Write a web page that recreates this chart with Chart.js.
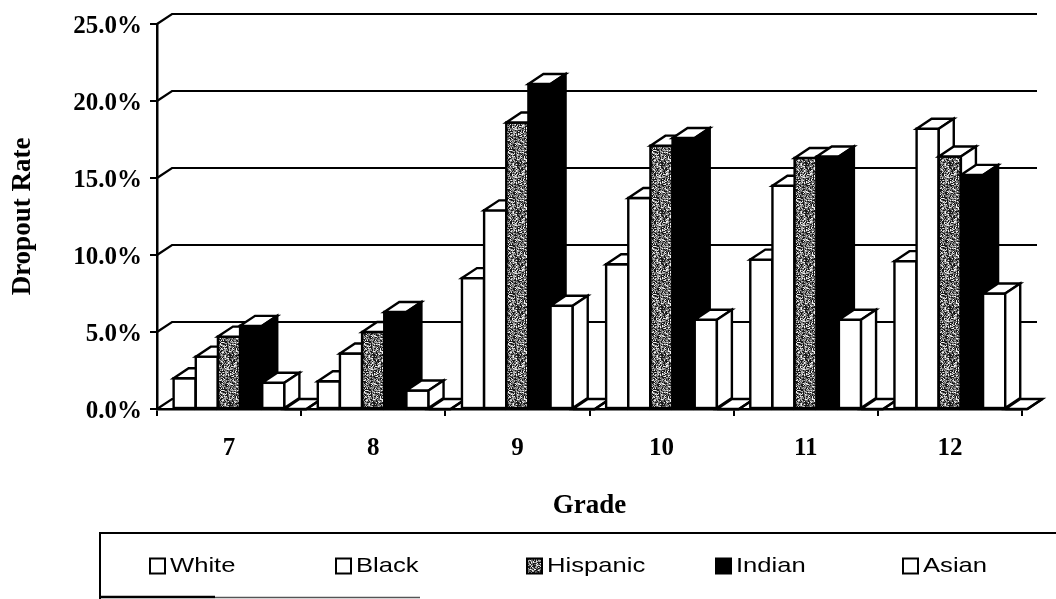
<!DOCTYPE html>
<html>
<head>
<meta charset="utf-8">
<script src="https://cdn.jsdelivr.net/npm/chart.js@4.4.1/dist/chart.umd.min.js"></script>
<style>
  html, body { margin: 0; padding: 0; background: #fff; overflow: hidden; }
  #wrap { width: 1056px; height: 599px; position: relative; }
</style>
</head>
<body>
<div id="wrap"><canvas id="chart" width="1056" height="599"></canvas></div>
<script>
// Dropout rate (%) by grade and group
const grades   = ['7', '8', '9', '10', '11', '12'];
const white    = [2.0, 1.8, 8.5, 9.4, 9.7, 9.6];
const black    = [3.4, 3.6, 12.9, 13.7, 14.5, 18.2];
const hispanic = [4.7, 5.0, 18.6, 17.1, 16.3, 16.4];
const indian   = [5.4, 6.3, 21.1, 17.6, 16.4, 15.2];
const asian    = [1.7, 1.2, 6.7, 5.8, 5.8, 7.5];
const other    = [0, 0, 0, 0, 0, 0];
const yTicks   = [0, 5, 10, 15, 20, 25];
const legendNames = ['White', 'Black', 'Hispanic', 'Indian', 'Asian'];

// 3-D projection of the bars and walls
const DX = 15, DY = 10, SHIFT = 11;

const SERIF = '"Liberation Serif", "Times New Roman", serif';
const SANS = '"Liberation Sans", Arial, sans-serif';

const canvas = document.getElementById('chart');
const mainCtx = canvas.getContext('2d');

// grainy grey fill used for the Hispanic bars
function makeStipple(ctx) {
  const size = 48;
  const c = document.createElement('canvas');
  c.width = c.height = size;
  const g = c.getContext('2d');
  const img = g.createImageData(size, size);
  let s = 918273;
  for (let i = 0; i < size * size; i++) {
    s = (s * 1103515245 + 12345) & 0x7fffffff;
    const r = s / 0x7fffffff;
    const v = r < 0.34 ? 25 : (r < 0.66 ? 105 : (r < 0.86 ? 175 : 240));
    img.data[i * 4] = img.data[i * 4 + 1] = img.data[i * 4 + 2] = v;
    img.data[i * 4 + 3] = 255;
  }
  g.putImageData(img, 0, 0);
  return ctx.createPattern(c, 'repeat');
}
const stipple = makeStipple(mainCtx);

const frontFill = ['#fff', '#fff', stipple, '#000', '#fff', '#fff'];
const sideFill  = ['#fff', '#fff', '#fff', '#000', '#fff', '#fff'];

function poly(ctx, pts, fill) {
  ctx.beginPath();
  ctx.moveTo(pts[0][0], pts[0][1]);
  for (let k = 1; k < pts.length; k++) ctx.lineTo(pts[k][0], pts[k][1]);
  ctx.closePath();
  ctx.fillStyle = fill;
  ctx.fill();
  ctx.stroke();
}

const bars3d = {
  id: 'bars3d',
  beforeDatasetsDraw(chart) {
    const { ctx, chartArea: a, scales: { y } } = chart;
    ctx.save();
    ctx.strokeStyle = '#000';
    ctx.lineWidth = 2.2;
    // back wall gridlines with the left-wall diagonals
    yTicks.forEach(v => {
      const py = y.getPixelForValue(v);
      ctx.beginPath();
      ctx.moveTo(a.left, py);
      ctx.lineTo(a.left + DX, py - DY);
      ctx.lineTo(a.right + DX, py - DY);
      ctx.stroke();
    });
    const by = y.getPixelForValue(0);
    ctx.beginPath();
    ctx.moveTo(a.right, by);
    ctx.lineTo(a.right + DX, by - DY);
    ctx.stroke();
    ctx.restore();
  },
  afterDatasetsDraw(chart) {
    const ctx = chart.ctx;
    const metas = chart.data.datasets.map((d, i) => chart.getDatasetMeta(i));
    const n = chart.data.labels.length;
    ctx.save();
    ctx.strokeStyle = '#000';
    ctx.lineWidth = 2.4;
    ctx.lineJoin = 'miter';
    for (let j = 0; j < n; j++) {
      for (let i = 0; i < metas.length; i++) {
        const p = metas[i].data[j].getProps(['x', 'y', 'base', 'width'], true);
        const x0 = p.x - p.width / 2 + SHIFT;
        const x1 = p.x + p.width / 2 + SHIFT;
        const yT = p.y, yB = p.base;
        // front face
        ctx.fillStyle = frontFill[i];
        ctx.fillRect(x0, yT, x1 - x0, yB - yT);
        ctx.strokeRect(x0, yT, x1 - x0, yB - yT);
        // top face
        poly(ctx, [[x0, yT], [x0 + DX, yT - DY], [x1 + DX, yT - DY], [x1, yT]], '#fff');
        // side face
        poly(ctx, [[x1, yT], [x1 + DX, yT - DY], [x1 + DX, yB - DY], [x1, yB]], sideFill[i]);
      }
    }
    ctx.restore();
  },
  afterDraw(chart) {
    const ctx = chart.ctx;
    ctx.save();
    // legend frame
    ctx.strokeStyle = '#000';
    ctx.lineWidth = 2;
    ctx.beginPath();
    ctx.moveTo(100, 600);
    ctx.lineTo(100, 533);
    ctx.lineTo(1060, 533);
    ctx.stroke();
    ctx.lineWidth = 2.4;
    ctx.beginPath();
    ctx.moveTo(100, 597);
    ctx.lineTo(215, 597);
    ctx.stroke();
    ctx.strokeStyle = '#555';
    ctx.lineWidth = 1.4;
    ctx.beginPath();
    ctx.moveTo(215, 597.5);
    ctx.lineTo(420, 597.5);
    ctx.stroke();
    // legend entries
    const xs = [150, 336, 527, 716, 903];
    legendNames.forEach((name, i) => {
      const x = xs[i], y = 566;
      ctx.strokeStyle = '#000';
      ctx.lineWidth = 2;
      ctx.fillStyle = frontFill[i];
      ctx.fillRect(x, y - 7.5, 15, 15);
      ctx.strokeRect(x, y - 7.5, 15, 15);
      ctx.save();
      ctx.translate(x + 20, y);
      ctx.scale(1.22, 1);
      ctx.fillStyle = '#000';
      ctx.font = '21px ' + SANS;
      ctx.textBaseline = 'middle';
      ctx.fillText(name, 0, 0);
      ctx.restore();
    });
    ctx.restore();
  }
};

const clear = 'rgba(0,0,0,0)';
const serieData = [white, black, hispanic, indian, asian, other];
const serieNames = ['White', 'Black', 'Hispanic', 'Indian', 'Asian', 'Other'];

new Chart(canvas, {
  type: 'bar',
  data: {
    labels: grades,
    datasets: serieData.map((d, i) => ({
      label: serieNames[i],
      data: d,
      backgroundColor: clear,
      borderColor: clear,
      borderWidth: 0
    }))
  },
  options: {
    responsive: false,
    animation: false,
    devicePixelRatio: 1,
    events: [],
    layout: { padding: { left: 0, right: 34, top: 24, bottom: 70 } },
    datasets: { bar: { categoryPercentage: 0.922, barPercentage: 1 } },
    plugins: { legend: { display: false }, tooltip: { enabled: false } },
    scales: {
      x: {
        grid: { drawOnChartArea: false, drawTicks: true, tickLength: 7, color: '#000', lineWidth: 2 },
        border: { display: true, color: '#000', width: 2.5 },
        ticks: { color: '#000', padding: 18, maxRotation: 0,
                 font: { family: SERIF, size: 25, weight: 'bold' } },
        title: { display: true, text: 'Grade', color: '#000',
                 font: { family: SERIF, size: 27, weight: 'bold' },
                 padding: { top: 0, bottom: 7 } },
        afterFit(s) { s.height = 120; }
      },
      y: {
        min: 0, max: 25,
        grid: { drawOnChartArea: false, drawTicks: true, tickLength: 7, color: '#000', lineWidth: 2 },
        border: { display: true, color: '#000', width: 2.5 },
        ticks: { stepSize: 5, color: '#000', padding: 8, labelOffset: 3,
                 callback: v => v.toFixed(1) + '%',
                 font: { family: SERIF, size: 25, weight: 'bold' } },
        title: { display: true, text: 'Dropout Rate', color: '#000',
                 font: { family: SERIF, size: 27, weight: 'bold' },
                 padding: { top: 7, bottom: 0 } },
        afterFit(s) { s.width = 157; }
      }
    }
  },
  plugins: [bars3d]
});
</script>
</body>
</html>
